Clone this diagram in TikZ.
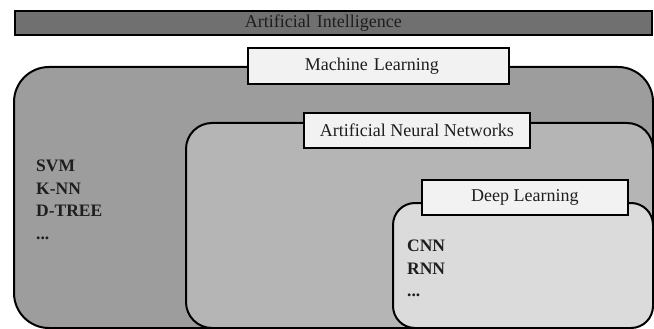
\documentclass[tikz,border=0pt]{standalone}
\usepackage{fontspec}
\setmainfont{Liberation Serif}
\definecolor{aifill}{HTML}{707070}
\definecolor{mlfill}{HTML}{9D9D9D}
\definecolor{annfill}{HTML}{B5B5B5}
\definecolor{dlfill}{HTML}{DBDBDB}
\definecolor{tagfill}{HTML}{F2F2F2}
\definecolor{ink}{HTML}{1E1E1E}
\begin{document}
\begin{tikzpicture}[x=1pt,y=-1pt,
  region/.style={draw=black, line width=2pt, rounded corners=#1,
    anchor=north west, inner sep=0pt},
  tag/.style={draw=black, line width=1.6pt, fill=tagfill, anchor=north west,
    inner sep=0pt, text=ink, font=\fontsize{18}{20}\selectfont},
  items/.style={anchor=north west, inner sep=0pt, align=left, text=ink,
    font=\fontsize{17.5}{22.5}\selectfont\bfseries}]
\useasboundingbox (0,0) rectangle (654,329);

% top bar, title set left of centre
\node[draw=black, line width=1.6pt, fill=aifill, anchor=north west,
  inner ysep=0pt, inner xsep=230pt, text width=177pt, align=left,
  minimum height=24pt, text=ink,
  font=\fontsize{18}{20}\selectfont] (ai) at (14,10) {Artificial Intelligence};

% nested regions
\node[region=35pt, fill=mlfill, minimum width=639pt, minimum height=261pt] (ml) at (13,66) {};
\node[region=26pt, fill=annfill, minimum width=467pt, minimum height=205pt] (ann) at (185,122) {};
\node[region=22pt, fill=dlfill, minimum width=260pt, minimum height=125pt] (dl) at (392,202) {};

% region titles
\node[tag, inner xsep=57pt, text width=147pt, align=left, minimum height=36pt]
  (mltag) at (247,47) {Machine Learning};
\node[tag, minimum width=226pt, minimum height=35pt] (anntag) at (303,112) {Artificial Neural Networks};
\node[tag, minimum width=206pt, minimum height=35pt] (dltag) at (421,179) {Deep Learning};

% examples
\node[items] (mlitems) at (36,160) {SVM\\K-NN\\D-TREE\\...};
\node[items] (dlitems) at (407,240) {CNN\\RNN\\...};
\end{tikzpicture}
\end{document}
